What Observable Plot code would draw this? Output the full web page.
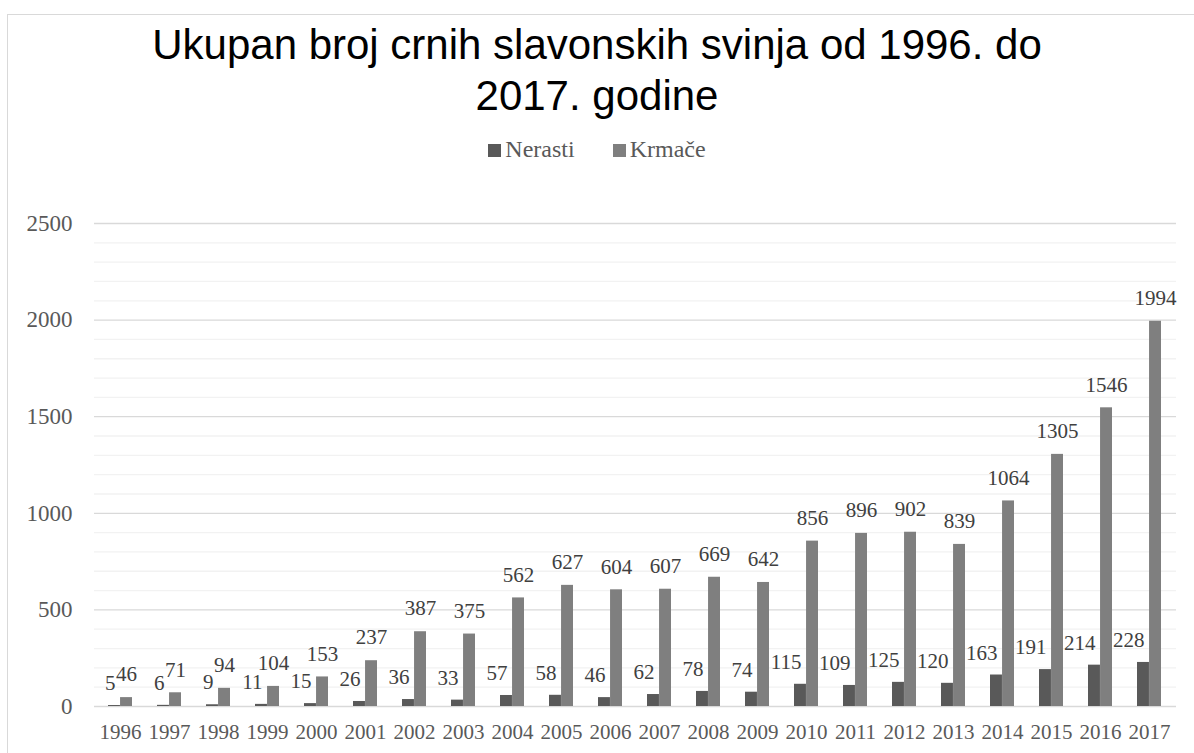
<!DOCTYPE html>
<html>
<head>
<meta charset="utf-8">
<script src="https://cdn.jsdelivr.net/npm/d3@7"></script>
<script src="https://cdn.jsdelivr.net/npm/@observablehq/plot@0.6"></script>
<style>
  html, body { margin:0; padding:0; background:#fff; }
  body { width:1194px; height:753px; overflow:hidden; position:relative; }
  #frame { position:absolute; left:7px; top:14px; width:1400px; height:900px;
           border-left:1.5px solid #d9d9d9; border-top:1.5px solid #d9d9d9; box-sizing:border-box; }
  #title { position:absolute; left:0; top:19px; width:1194px; text-align:center;
           font-family:"Liberation Sans", Arial, sans-serif; font-size:42px; line-height:51px; color:#000; }
  #legend { position:absolute; left:0; top:136px; width:1194px; display:flex; justify-content:center;
            font-family:"Liberation Serif", "Times New Roman", serif; font-size:24px; line-height:26px; color:#595959; }
  #legend .item { display:inline-flex; align-items:baseline; }
  #legend .sw { display:inline-block; width:13px; height:13px; margin-right:4px; vertical-align:2px; }
  #chart { position:absolute; left:0; top:170px; }
  #chart svg, #chart svg text { font-family:"Liberation Serif", "Times New Roman", serif !important; }
  #chart [aria-label^="y-axis"] text { font-size:23px; }
  #chart [aria-label^="x-axis"] text { font-size:21px; }
</style>
</head>
<body>
<div id="frame"></div>
<div id="title">Ukupan broj crnih slavonskih svinja od 1996. do<br>2017. godine</div>
<div id="legend"></div>
<div id="chart"></div>
<script>
// ---- data ----
const years = [1996,1997,1998,1999,2000,2001,2002,2003,2004,2005,2006,2007,2008,2009,2010,2011,2012,2013,2014,2015,2016,2017];
const nerasti = [5,6,9,11,15,26,36,33,57,58,46,62,78,74,115,109,125,120,163,191,214,228];
const krmace = [46,71,94,104,153,237,387,375,562,627,604,607,669,642,856,896,902,839,1064,1305,1546,1994];
const seriesNames = ["Nerasti", "Krmače"];
const yTicks = [0,500,1000,1500,2000,2500];
const yMinorTicks = [100,200,300,400,600,700,800,900,1100,1200,1300,1400,1600,1700,1800,1900,2100,2200,2300,2400];

const colors = ["#595959", "#7f7f7f"];
const serif = "Liberation Serif";
const table = years.map((y, i) => ({year: String(y), nerasti: nerasti[i], krmace: krmace[i]}));

// legend
const legend = document.getElementById("legend");
seriesNames.forEach((name, i) => {
  const it = document.createElement("span");
  it.className = "item";
  if (i > 0) it.style.marginLeft = "38px";
  it.innerHTML = `<span class="sw" style="background:${colors[i]}"></span>${name}`;
  legend.appendChild(it);
});

const W = 1194, mL = 94, mR = 18;
const step = (W - mL - mR) / years.length;
const pInner = 0.51;
const half = step * (1 - pInner) / 2;

const chart = Plot.plot({
  width: W,
  height: 583,
  marginTop: 53,
  marginBottom: 47,
  marginLeft: mL,
  marginRight: mR,
  style: {color: "#595959", background: "transparent", overflow: "visible"},
  x: {domain: years.map(String), paddingInner: pInner, paddingOuter: pInner / 2, label: null, tickSize: 0, tickPadding: 18},
  y: {domain: [0, 2500], ticks: yTicks, tickFormat: d => String(d), label: null, tickSize: 0, tickPadding: 22},
  marks: [
    Plot.ruleY(yMinorTicks, {stroke: "#f2f2f2", strokeWidth: 1.3}),
    Plot.ruleY(yTicks, {stroke: "#d9d9d9", strokeWidth: 1.3}),
    Plot.barY(table, {x: "year", y: "nerasti", fill: colors[0], insetRight: half}),
    Plot.barY(table, {x: "year", y: "krmace", fill: colors[1], insetLeft: half}),
    Plot.text(table, {x: "year", y: "nerasti", text: d => String(d.nerasti), dx: -half / 2 + 1, dy: -22, textAnchor: "end", fill: "#404040", fontSize: 21, fontFamily: serif}),
    Plot.text(table, {x: "year", y: "krmace", text: d => String(d.krmace), dx: half / 2, dy: -23, fill: "#404040", fontSize: 21, fontFamily: serif})
  ]
});
document.getElementById("chart").appendChild(chart);
</script>
</body>
</html>
